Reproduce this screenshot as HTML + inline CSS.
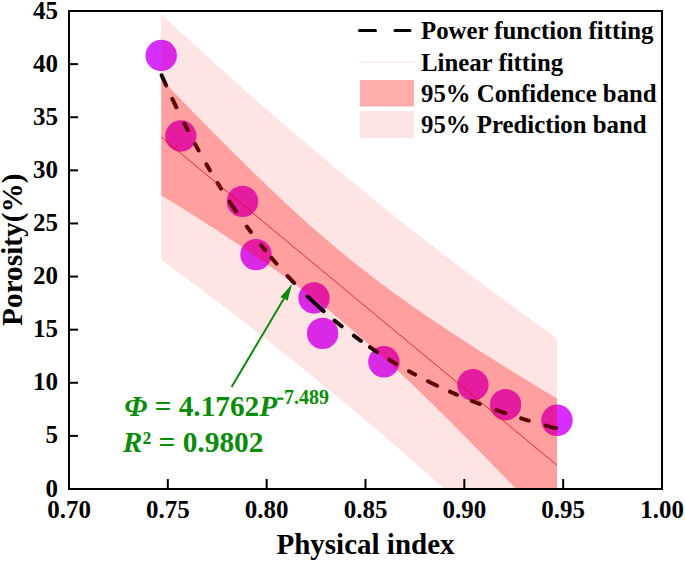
<!DOCTYPE html>
<html><head><meta charset="utf-8"><style>
html,body{margin:0;padding:0;background:#fff;}
svg{display:block;}
</style></head><body>
<svg width="685" height="562" viewBox="0 0 685 562">
<defs><clipPath id="pc"><rect x="70" y="12" width="591" height="476"/></clipPath></defs>
<rect width="685" height="562" fill="#fff"/>
<g clip-path="url(#pc)">
<g fill="#d62eff"><circle cx="161.2" cy="55.5" r="15.7"/><circle cx="180.8" cy="136.0" r="15.7"/><circle cx="242.5" cy="201.4" r="15.7"/><circle cx="256.0" cy="254.6" r="15.7"/><circle cx="314.0" cy="298.0" r="15.7"/><circle cx="322.6" cy="333.4" r="15.7"/><circle cx="383.9" cy="361.8" r="15.7"/><circle cx="472.9" cy="384.8" r="15.7"/><circle cx="505.6" cy="404.7" r="15.7"/><circle cx="557.0" cy="420.3" r="15.7"/></g>
<path d="M161.65,75.29 L162.15,76.43 L162.66,77.57 L163.16,78.71 L163.67,79.85 L164.17,80.98 L164.68,82.11 L165.18,83.23 L165.68,84.35 L166.19,85.47 M172.33,98.78 L172.83,99.85 L173.34,100.92 L173.84,101.99 L174.34,103.05 L174.85,104.11 L175.35,105.16 L175.86,106.22 L176.36,107.27 M184.28,123.31 L184.78,124.31 L185.29,125.30 L185.79,126.29 L186.29,127.28 L186.80,128.26 L187.30,129.25 L187.81,130.22 M195.08,143.99 L195.58,144.93 L196.09,145.86 L196.59,146.79 L197.09,147.71 L197.60,148.64 L198.10,149.56 L198.61,150.47 M206.44,164.35 L206.95,165.23 L207.45,166.10 L207.95,166.96 L208.46,167.83 L208.96,168.69 L209.47,169.55 L209.97,170.41 M217.56,182.98 L218.07,183.80 L218.57,184.61 L219.08,185.42 L219.58,186.23 L220.09,187.04 L220.59,187.84 L221.10,188.65 M229.55,201.73 L230.06,202.49 L230.56,203.25 L231.07,204.01 L231.57,204.76 L232.08,205.51 L232.58,206.26 L233.09,207.01 L233.59,207.75 L234.10,208.49 L234.60,209.23 L235.11,209.97 L235.61,210.71 L236.11,211.44 M246.83,226.52 L247.34,227.21 L247.84,227.90 L248.35,228.58 L248.85,229.26 L249.36,229.94 L249.86,230.62 L250.37,231.29 L250.87,231.96 M261.09,245.17 L261.59,245.80 L262.09,246.43 L262.60,247.06 L263.10,247.69 L263.61,248.31 L264.11,248.94 L264.62,249.56 L265.12,250.18 M271.48,257.83 L271.99,258.43 L272.49,259.02 L273.00,259.62 L273.50,260.21 L274.00,260.80 L274.51,261.38 L275.01,261.97 L275.52,262.55 L276.02,263.13 L276.53,263.71 M287.57,276.00 L288.07,276.55 L288.58,277.09 L289.08,277.63 L289.59,278.17 L290.09,278.70 L290.60,279.24 L291.10,279.77 L291.61,280.31 L292.11,280.84 L292.62,281.37 L293.12,281.90 L293.63,282.42 L294.13,282.95 M307.51,296.34 L308.02,296.82 L308.52,297.31 L309.03,297.79 L309.53,298.27 L310.04,298.75 L310.54,299.23 L311.05,299.71 L311.55,300.18 L312.06,300.66 L312.56,301.13 L313.07,301.60 L313.57,302.07 L314.07,302.54 L314.58,303.01 L315.08,303.48 L315.59,303.94 L316.09,304.41 L316.60,304.87 L317.10,305.33 L317.61,305.79 L318.11,306.25 L318.62,306.71 L319.12,307.16 L319.63,307.62 L320.13,308.07 L320.63,308.52 L321.14,308.98 L321.64,309.43 L322.15,309.87 L322.65,310.32 L323.16,310.77 L323.66,311.21 M334.56,320.52 L335.07,320.94 L335.57,321.36 L336.08,321.77 L336.58,322.19 L337.09,322.60 L337.59,323.01 L338.10,323.42 L338.60,323.83 L339.11,324.24 L339.61,324.65 L340.11,325.05 L340.62,325.46 L341.12,325.86 L341.63,326.26 M353.90,335.72 L354.41,336.10 L354.91,336.47 L355.42,336.85 L355.92,337.22 L356.43,337.59 L356.93,337.96 L357.43,338.33 L357.94,338.70 L358.44,339.06 L358.95,339.43 L359.45,339.80 L359.96,340.16 L360.46,340.52 L360.97,340.89 M370.03,347.23 L370.54,347.57 L371.04,347.91 L371.54,348.26 L372.05,348.60 L372.55,348.94 L373.06,349.28 L373.56,349.62 L374.07,349.95 L374.57,350.29 L375.08,350.63 L375.58,350.96 L376.09,351.29 L376.59,351.63 L377.10,351.96 M389.23,359.68 L389.73,359.99 L390.24,360.30 L390.74,360.60 L391.25,360.91 L391.75,361.22 L392.26,361.52 L392.76,361.83 L393.27,362.13 L393.77,362.44 L394.27,362.74 L394.78,363.04 L395.28,363.34 L395.79,363.64 L396.29,363.94 M409.05,371.26 L409.56,371.54 L410.06,371.81 L410.57,372.09 L411.07,372.37 L411.57,372.65 L412.08,372.92 L412.58,373.20 L413.09,373.47 L413.59,373.74 L414.10,374.02 L414.60,374.29 L415.11,374.56 M428.03,381.26 L428.53,381.51 L429.04,381.77 L429.54,382.02 L430.04,382.27 L430.55,382.52 L431.05,382.77 L431.56,383.02 L432.06,383.26 L432.57,383.51 L433.07,383.76 L433.58,384.00 L434.08,384.25 L434.59,384.50 L435.09,384.74 L435.60,384.98 L436.10,385.23 L436.61,385.47 L437.11,385.71 M449.97,391.66 L450.47,391.88 L450.98,392.11 L451.48,392.33 L451.99,392.56 L452.49,392.78 L453.00,393.00 L453.50,393.23 L454.01,393.45 L454.51,393.67 L455.02,393.89 L455.52,394.11 L456.02,394.33 L456.53,394.55 L457.03,394.76 M471.71,400.86 L472.21,401.06 L472.72,401.26 L473.22,401.47 L473.73,401.67 L474.23,401.87 L474.74,402.06 L475.24,402.26 L475.75,402.46 L476.25,402.66 L476.76,402.86 L477.26,403.05 L477.77,403.25 L478.27,403.44 L478.77,403.64 L479.28,403.83 L479.78,404.03 M496.30,410.11 L496.80,410.29 L497.31,410.47 L497.81,410.64 L498.32,410.82 L498.82,411.00 L499.32,411.17 L499.83,411.35 L500.33,411.52 L500.84,411.70 L501.34,411.87 L501.85,412.05 L502.35,412.22 L502.86,412.39 L503.36,412.56 L503.87,412.74 L504.37,412.91 L504.88,413.08 L505.38,413.25 M521.21,418.39 L521.71,418.54 L522.22,418.70 L522.72,418.86 L523.23,419.01 L523.73,419.17 L524.23,419.32 L524.74,419.48 L525.24,419.63 L525.75,419.79 L526.25,419.94 L526.76,420.09 L527.26,420.25 L527.77,420.40 L528.27,420.55 L528.78,420.70 M545.71,425.59 L546.22,425.73 L546.72,425.87 L547.23,426.00 L547.73,426.14 L548.24,426.28 L548.74,426.42 L549.25,426.56 L549.75,426.69 L550.25,426.83 L550.76,426.97 L551.26,427.10 L551.77,427.24 L552.27,427.37 L552.78,427.51 L553.28,427.64 L553.79,427.78 L554.29,427.91 L554.80,428.04 L555.30,428.18 L555.81,428.31" fill="none" stroke="#000" stroke-width="4" stroke-linecap="round" stroke-linejoin="round"/>
<line x1="161.20" y1="137.08" x2="557.00" y2="465.28" stroke="#d0101c" stroke-width="0.8"/>
<polygon points="161.20,14.23 163.19,16.08 165.18,17.93 167.17,19.77 169.16,21.62 171.14,23.46 173.13,25.30 175.12,27.13 177.11,28.97 179.10,30.80 181.09,32.63 183.08,34.46 185.07,36.29 187.06,38.11 189.05,39.94 191.03,41.76 193.02,43.58 195.01,45.39 197.00,47.21 198.99,49.02 200.98,50.83 202.97,52.64 204.96,54.45 206.95,56.25 208.93,58.05 210.92,59.85 212.91,61.65 214.90,63.45 216.89,65.24 218.88,67.03 220.87,68.82 222.86,70.61 224.85,72.39 226.84,74.18 228.82,75.96 230.81,77.74 232.80,79.51 234.79,81.29 236.78,83.06 238.77,84.83 240.76,86.60 242.75,88.36 244.74,90.12 246.72,91.88 248.71,93.64 250.70,95.40 252.69,97.15 254.68,98.90 256.67,100.65 258.66,102.40 260.65,104.15 262.64,105.89 264.63,107.63 266.61,109.37 268.60,111.10 270.59,112.83 272.58,114.57 274.57,116.29 276.56,118.02 278.55,119.74 280.54,121.47 282.53,123.18 284.51,124.90 286.50,126.62 288.49,128.33 290.48,130.04 292.47,131.75 294.46,133.45 296.45,135.15 298.44,136.85 300.43,138.55 302.42,140.25 304.40,141.94 306.39,143.63 308.38,145.32 310.37,147.00 312.36,148.69 314.35,150.37 316.34,152.05 318.33,153.72 320.32,155.40 322.30,157.07 324.29,158.74 326.28,160.41 328.27,162.07 330.26,163.73 332.25,165.39 334.24,167.05 336.23,168.70 338.22,170.35 340.21,172.00 342.19,173.65 344.18,175.30 346.17,176.94 348.16,178.58 350.15,180.22 352.14,181.85 354.13,183.49 356.12,185.12 358.11,186.74 360.09,188.37 362.08,189.99 364.07,191.61 366.06,193.23 368.05,194.85 370.04,196.46 372.03,198.07 374.02,199.68 376.01,201.29 377.99,202.89 379.98,204.49 381.97,206.09 383.96,207.69 385.95,209.28 387.94,210.88 389.93,212.47 391.92,214.05 393.91,215.64 395.90,217.22 397.88,218.80 399.87,220.38 401.86,221.95 403.85,223.53 405.84,225.10 407.83,226.67 409.82,228.23 411.81,229.80 413.80,231.36 415.78,232.92 417.77,234.48 419.76,236.03 421.75,237.58 423.74,239.13 425.73,240.68 427.72,242.23 429.71,243.77 431.70,245.31 433.69,246.85 435.67,248.39 437.66,249.92 439.65,251.45 441.64,252.98 443.63,254.51 445.62,256.03 447.61,257.56 449.60,259.08 451.59,260.60 453.57,262.11 455.56,263.63 457.55,265.14 459.54,266.65 461.53,268.16 463.52,269.66 465.51,271.17 467.50,272.67 469.49,274.17 471.48,275.67 473.46,277.16 475.45,278.65 477.44,280.14 479.43,281.63 481.42,283.12 483.41,284.60 485.40,286.09 487.39,287.57 489.38,289.05 491.36,290.52 493.35,292.00 495.34,293.47 497.33,294.94 499.32,296.41 501.31,297.87 503.30,299.34 505.29,300.80 507.28,302.26 509.27,303.72 511.25,305.18 513.24,306.63 515.23,308.08 517.22,309.53 519.21,310.98 521.20,312.43 523.19,313.87 525.18,315.32 527.17,316.76 529.15,318.20 531.14,319.64 533.13,321.07 535.12,322.51 537.11,323.94 539.10,325.37 541.09,326.80 543.08,328.22 545.07,329.65 547.06,331.07 549.04,332.49 551.03,333.91 553.02,335.33 555.01,336.75 557.00,338.16 557.00,592.39 555.01,590.51 553.02,588.62 551.03,586.74 549.04,584.87 547.06,582.99 545.07,581.11 543.08,579.24 541.09,577.37 539.10,575.50 537.11,573.63 535.12,571.76 533.13,569.90 531.14,568.04 529.15,566.17 527.17,564.32 525.18,562.46 523.19,560.60 521.20,558.75 519.21,556.90 517.22,555.05 515.23,553.20 513.24,551.36 511.25,549.51 509.27,547.67 507.28,545.83 505.29,543.99 503.30,542.16 501.31,540.32 499.32,538.49 497.33,536.66 495.34,534.83 493.35,533.00 491.36,531.18 489.38,529.36 487.39,527.54 485.40,525.72 483.41,523.90 481.42,522.09 479.43,520.28 477.44,518.47 475.45,516.66 473.46,514.86 471.48,513.05 469.49,511.25 467.50,509.45 465.51,507.66 463.52,505.86 461.53,504.07 459.54,502.28 457.55,500.49 455.56,498.70 453.57,496.92 451.59,495.14 449.60,493.36 447.61,491.58 445.62,489.80 443.63,488.03 441.64,486.26 439.65,484.49 437.66,482.72 435.67,480.96 433.69,479.20 431.70,477.44 429.71,475.68 427.72,473.93 425.73,472.17 423.74,470.42 421.75,468.67 419.76,466.93 417.77,465.18 415.78,463.44 413.80,461.70 411.81,459.97 409.82,458.23 407.83,456.50 405.84,454.77 403.85,453.04 401.86,451.32 399.87,449.59 397.88,447.87 395.90,446.16 393.91,444.44 391.92,442.73 389.93,441.02 387.94,439.31 385.95,437.60 383.96,435.90 381.97,434.20 379.98,432.50 377.99,430.80 376.01,429.10 374.02,427.41 372.03,425.72 370.04,424.04 368.05,422.35 366.06,420.67 364.07,418.99 362.08,417.31 360.09,415.64 358.11,413.96 356.12,412.29 354.13,410.62 352.14,408.96 350.15,407.30 348.16,405.64 346.17,403.98 344.18,402.32 342.19,400.67 340.21,399.02 338.22,397.37 336.23,395.72 334.24,394.08 332.25,392.44 330.26,390.80 328.27,389.16 326.28,387.53 324.29,385.89 322.30,384.26 320.32,382.64 318.33,381.01 316.34,379.39 314.35,377.77 312.36,376.15 310.37,374.54 308.38,372.93 306.39,371.32 304.40,369.71 302.42,368.10 300.43,366.50 298.44,364.90 296.45,363.30 294.46,361.71 292.47,360.11 290.48,358.52 288.49,356.93 286.50,355.35 284.51,353.76 282.53,352.18 280.54,350.60 278.55,349.02 276.56,347.45 274.57,345.88 272.58,344.31 270.59,342.74 268.60,341.18 266.61,339.61 264.63,338.05 262.64,336.49 260.65,334.94 258.66,333.38 256.67,331.83 254.68,330.28 252.69,328.74 250.70,327.19 248.71,325.65 246.72,324.11 244.74,322.57 242.75,321.04 240.76,319.50 238.77,317.97 236.78,316.44 234.79,314.92 232.80,313.39 230.81,311.87 228.82,310.35 226.84,308.83 224.85,307.32 222.86,305.80 220.87,304.29 218.88,302.78 216.89,301.28 214.90,299.77 212.91,298.27 210.92,296.77 208.93,295.27 206.95,293.77 204.96,292.28 202.97,290.79 200.98,289.30 198.99,287.81 197.00,286.32 195.01,284.84 193.02,283.36 191.03,281.88 189.05,280.40 187.06,278.93 185.07,277.45 183.08,275.98 181.09,274.51 179.10,273.04 177.11,271.58 175.12,270.12 173.13,268.65 171.14,267.19 169.16,265.74 167.17,264.28 165.18,262.83 163.19,261.38 161.20,259.93" fill="#ff0000" fill-opacity="0.106"/>
<polygon points="161.20,78.95 163.19,81.02 165.18,83.09 167.17,85.16 169.16,87.23 171.14,89.29 173.13,91.36 175.12,93.42 177.11,95.48 179.10,97.53 181.09,99.59 183.08,101.64 185.07,103.69 187.06,105.74 189.05,107.79 191.03,109.83 193.02,111.88 195.01,113.92 197.00,115.95 198.99,117.99 200.98,120.02 202.97,122.05 204.96,124.08 206.95,126.10 208.93,128.13 210.92,130.15 212.91,132.16 214.90,134.17 216.89,136.18 218.88,138.19 220.87,140.20 222.86,142.20 224.85,144.19 226.84,146.19 228.82,148.18 230.81,150.17 232.80,152.15 234.79,154.13 236.78,156.11 238.77,158.08 240.76,160.05 242.75,162.01 244.74,163.97 246.72,165.93 248.71,167.88 250.70,169.83 252.69,171.77 254.68,173.71 256.67,175.64 258.66,177.57 260.65,179.49 262.64,181.41 264.63,183.32 266.61,185.23 268.60,187.14 270.59,189.03 272.58,190.93 274.57,192.81 276.56,194.69 278.55,196.57 280.54,198.44 282.53,200.30 284.51,202.16 286.50,204.01 288.49,205.85 290.48,207.69 292.47,209.52 294.46,211.35 296.45,213.16 298.44,214.97 300.43,216.78 302.42,218.58 304.40,220.37 306.39,222.15 308.38,223.92 310.37,225.69 312.36,227.45 314.35,229.20 316.34,230.95 318.33,232.69 320.32,234.42 322.30,236.14 324.29,237.86 326.28,239.56 328.27,241.26 330.26,242.95 332.25,244.63 334.24,246.31 336.23,247.98 338.22,249.64 340.21,251.29 342.19,252.93 344.18,254.56 346.17,256.19 348.16,257.81 350.15,259.42 352.14,261.02 354.13,262.62 356.12,264.21 358.11,265.79 360.09,267.36 362.08,268.92 364.07,270.48 366.06,272.03 368.05,273.57 370.04,275.10 372.03,276.63 374.02,278.15 376.01,279.66 377.99,281.16 379.98,282.66 381.97,284.15 383.96,285.64 385.95,287.11 387.94,288.58 389.93,290.05 391.92,291.50 393.91,292.95 395.90,294.40 397.88,295.84 399.87,297.27 401.86,298.69 403.85,300.12 405.84,301.53 407.83,302.94 409.82,304.34 411.81,305.74 413.80,307.13 415.78,308.52 417.77,309.90 419.76,311.28 421.75,312.65 423.74,314.02 425.73,315.38 427.72,316.74 429.71,318.09 431.70,319.44 433.69,320.78 435.67,322.12 437.66,323.46 439.65,324.79 441.64,326.12 443.63,327.44 445.62,328.76 447.61,330.08 449.60,331.39 451.59,332.70 453.57,334.01 455.56,335.31 457.55,336.61 459.54,337.91 461.53,339.20 463.52,340.49 465.51,341.77 467.50,343.06 469.49,344.34 471.48,345.62 473.46,346.89 475.45,348.16 477.44,349.43 479.43,350.70 481.42,351.96 483.41,353.23 485.40,354.49 487.39,355.74 489.38,357.00 491.36,358.25 493.35,359.50 495.34,360.75 497.33,362.00 499.32,363.24 501.31,364.48 503.30,365.72 505.29,366.96 507.28,368.20 509.27,369.43 511.25,370.66 513.24,371.89 515.23,373.12 517.22,374.35 519.21,375.58 521.20,376.80 523.19,378.02 525.18,379.24 527.17,380.46 529.15,381.68 531.14,382.90 533.13,384.11 535.12,385.33 537.11,386.54 539.10,387.75 541.09,388.96 543.08,390.17 545.07,391.38 547.06,392.58 549.04,393.79 551.03,394.99 553.02,396.19 555.01,397.40 557.00,398.60 557.00,531.95 555.01,529.86 553.02,527.76 551.03,525.66 549.04,523.57 547.06,521.48 545.07,519.38 543.08,517.29 541.09,515.20 539.10,513.11 537.11,511.03 535.12,508.94 533.13,506.86 531.14,504.77 529.15,502.69 527.17,500.61 525.18,498.53 523.19,496.45 521.20,494.38 519.21,492.30 517.22,490.23 515.23,488.16 513.24,486.09 511.25,484.02 509.27,481.96 507.28,479.89 505.29,477.83 503.30,475.77 501.31,473.71 499.32,471.66 497.33,469.60 495.34,467.55 493.35,465.50 491.36,463.45 489.38,461.41 487.39,459.36 485.40,457.32 483.41,455.28 481.42,453.25 479.43,451.21 477.44,449.18 475.45,447.15 473.46,445.13 471.48,443.10 469.49,441.08 467.50,439.06 465.51,437.05 463.52,435.04 461.53,433.03 459.54,431.02 457.55,429.02 455.56,427.02 453.57,425.02 451.59,423.03 449.60,421.04 447.61,419.06 445.62,417.07 443.63,415.10 441.64,413.12 439.65,411.15 437.66,409.18 435.67,407.22 433.69,405.26 431.70,403.31 429.71,401.36 427.72,399.41 425.73,397.47 423.74,395.54 421.75,393.61 419.76,391.68 417.77,389.76 415.78,387.84 413.80,385.93 411.81,384.03 409.82,382.12 407.83,380.23 405.84,378.34 403.85,376.46 401.86,374.58 399.87,372.71 397.88,370.84 395.90,368.98 393.91,367.12 391.92,365.28 389.93,363.44 387.94,361.60 385.95,359.77 383.96,357.95 381.97,356.14 379.98,354.33 377.99,352.53 376.01,350.73 374.02,348.95 372.03,347.17 370.04,345.39 368.05,343.63 366.06,341.87 364.07,340.12 362.08,338.38 360.09,336.65 358.11,334.92 356.12,333.20 354.13,331.49 352.14,329.79 350.15,328.09 348.16,326.40 346.17,324.72 344.18,323.05 342.19,321.39 340.21,319.73 338.22,318.09 336.23,316.45 334.24,314.82 332.25,313.19 330.26,311.58 328.27,309.97 326.28,308.37 324.29,306.78 322.30,305.19 320.32,303.62 318.33,302.05 316.34,300.49 314.35,298.94 312.36,297.39 310.37,295.85 308.38,294.32 306.39,292.80 304.40,291.28 302.42,289.77 300.43,288.27 298.44,286.78 296.45,285.29 294.46,283.81 292.47,282.34 290.48,280.87 288.49,279.41 286.50,277.95 284.51,276.51 282.53,275.07 280.54,273.63 278.55,272.20 276.56,270.78 274.57,269.36 272.58,267.95 270.59,266.54 268.60,265.14 266.61,263.74 264.63,262.35 262.64,260.97 260.65,259.59 258.66,258.22 256.67,256.85 254.68,255.48 252.69,254.12 250.70,252.76 248.71,251.41 246.72,250.07 244.74,248.72 242.75,247.39 240.76,246.05 238.77,244.72 236.78,243.39 234.79,242.07 232.80,240.75 230.81,239.44 228.82,238.13 226.84,236.82 224.85,235.52 222.86,234.21 220.87,232.92 218.88,231.62 216.89,230.33 214.90,229.04 212.91,227.76 210.92,226.48 208.93,225.20 206.95,223.92 204.96,222.65 202.97,221.38 200.98,220.11 198.99,218.84 197.00,217.58 195.01,216.32 193.02,215.06 191.03,213.80 189.05,212.55 187.06,211.30 185.07,210.05 183.08,208.80 181.09,207.55 179.10,206.31 177.11,205.07 175.12,203.83 173.13,202.59 171.14,201.36 169.16,200.12 167.17,198.89 165.18,197.66 163.19,196.43 161.20,195.21" fill="#ff0000" fill-opacity="0.30"/>
</g>
<g stroke="#000" stroke-width="2" fill="none">
<rect x="69" y="11" width="593" height="478"/>
<line x1="70" y1="435.89" x2="78" y2="435.89"/><line x1="70" y1="382.78" x2="78" y2="382.78"/><line x1="70" y1="329.67" x2="78" y2="329.67"/><line x1="70" y1="276.56" x2="78" y2="276.56"/><line x1="70" y1="223.44" x2="78" y2="223.44"/><line x1="70" y1="170.33" x2="78" y2="170.33"/><line x1="70" y1="117.22" x2="78" y2="117.22"/><line x1="70" y1="64.11" x2="78" y2="64.11"/><line x1="167.83" y1="479" x2="167.83" y2="488"/><line x1="266.67" y1="479" x2="266.67" y2="488"/><line x1="365.50" y1="479" x2="365.50" y2="488"/><line x1="464.33" y1="479" x2="464.33" y2="488"/><line x1="563.17" y1="479" x2="563.17" y2="488"/>
</g>
<g font-family="Liberation Serif" font-weight="bold" font-size="25" fill="#000"><text x="58.0" y="496.60" text-anchor="end">0</text><text x="58.0" y="443.49" text-anchor="end">5</text><text x="58.0" y="390.38" text-anchor="end">10</text><text x="58.0" y="337.27" text-anchor="end">15</text><text x="58.0" y="284.16" text-anchor="end">20</text><text x="58.0" y="231.04" text-anchor="end">25</text><text x="58.0" y="177.93" text-anchor="end">30</text><text x="58.0" y="124.82" text-anchor="end">35</text><text x="58.0" y="71.71" text-anchor="end">40</text><text x="58.0" y="18.60" text-anchor="end">45</text><text x="69.00" y="518" text-anchor="middle">0.70</text><text x="167.83" y="518" text-anchor="middle">0.75</text><text x="266.67" y="518" text-anchor="middle">0.80</text><text x="365.50" y="518" text-anchor="middle">0.85</text><text x="464.33" y="518" text-anchor="middle">0.90</text><text x="563.17" y="518" text-anchor="middle">0.95</text><text x="662.00" y="518" text-anchor="middle">1.00</text></g>
<text font-family="Liberation Serif" font-weight="bold" font-size="29" x="365.5" y="553.6" text-anchor="middle">Physical index</text>
<text font-family="Liberation Serif" font-weight="bold" font-size="29.3" transform="translate(22.4,249.7) rotate(-90)" text-anchor="middle">Porosity(%)</text>
<!-- legend -->
<g stroke="#000" stroke-width="3" stroke-linecap="round"><line x1="359.5" y1="30.5" x2="375.5" y2="30.5"/><line x1="395" y1="30.5" x2="410" y2="30.5"/></g>
<line x1="359" y1="62.2" x2="415" y2="62.2" stroke="#fbdede" stroke-width="1"/>
<rect x="360" y="80" width="54" height="26.5" fill="#ff0000" fill-opacity="0.32"/>
<rect x="360" y="111" width="54" height="27" fill="#ff0000" fill-opacity="0.106"/>
<g font-family="Liberation Serif" font-weight="bold" font-size="24.8" fill="#000">
<text x="421" y="39.4">Power function fitting</text>
<text x="421" y="70.6">Linear fitting</text>
<text x="421" y="101.8">95% Confidence band</text>
<text x="421" y="132.7">95% Prediction band</text>
</g>
<!-- annotation -->
<g stroke="#0a8c0a" fill="#0a8c0a">
<line x1="231.6" y1="386.9" x2="284" y2="298.5" stroke-width="2"/>
<polygon points="292.1,283.9 280.3,297.2 284,298.6 287.6,300.8" stroke="none"/>
</g>
<g font-family="Liberation Serif" font-weight="bold" fill="#0a8c0a">
<text x="124.2" y="415.5" font-size="29.3"><tspan font-style="italic">Φ</tspan> = 4.1762<tspan font-style="italic">P</tspan></text>
<rect x="277.2" y="397.6" width="6.2" height="2.2" stroke="none"/>
<text x="284" y="404" font-size="20">7.489</text>
<text x="122.8" y="452.4" font-size="29.4"><tspan font-style="italic">R</tspan>² = 0.9802</text>
</g>
</svg>
</body></html>
